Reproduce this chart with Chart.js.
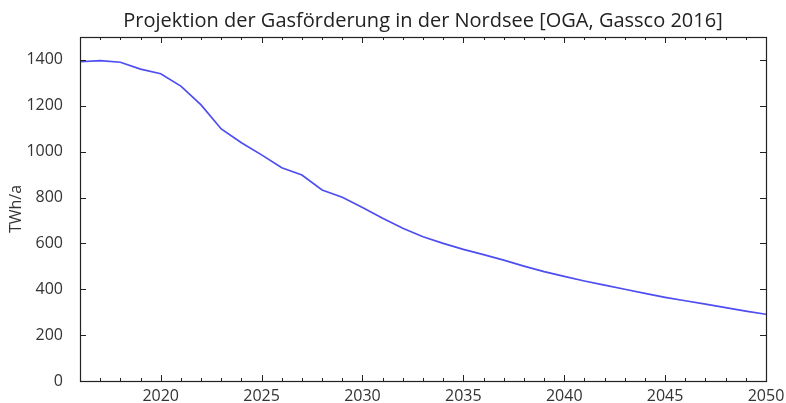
<!DOCTYPE html>
<html>
<head>
<meta charset="utf-8">
<script src="https://cdn.jsdelivr.net/npm/chart.js@4"></script>
<style>
  html, body { margin: 0; padding: 0; background: #fff; }
  #wrap { width: 786px; height: 403px; }
</style>
</head>
<body>
<div id="wrap"><canvas id="gasChart"></canvas></div>
<script>
// Projektion der Gasförderung, TWh/a
var years = [2016, 2017, 2018, 2019, 2020, 2021, 2022, 2023, 2024, 2025,
             2026, 2027, 2028, 2029, 2030, 2031, 2032, 2033, 2034, 2035,
             2036, 2037, 2038, 2039, 2040, 2041, 2042, 2043, 2044, 2045,
             2046, 2047, 2048, 2049, 2050];
var production = [1392, 1397, 1390, 1360, 1340, 1286, 1204, 1099, 1039, 986,
                  930, 898, 833, 801, 757, 710, 666, 629, 600, 574,
                  551, 527, 501, 477, 456, 436, 418, 400, 382, 365,
                  350, 335, 320, 305, 291];
var xTicks = [2020, 2025, 2030, 2035, 2040, 2045, 2050];
var yTicks = [0, 200, 400, 600, 800, 1000, 1200, 1400];

var points = years.map(function (y, i) { return { x: y, y: production[i] }; });

// matplotlib-style frame with inward ticks
var frameTicks = {
    id: 'frameTicks',
    afterDraw: function (chart) {
        var c = chart.ctx, a = chart.chartArea;
        var xs = chart.scales.x, ys = chart.scales.y;
        c.save();
        c.strokeStyle = '#222';
        c.lineWidth = 1;
        c.beginPath();
        years.forEach(function (yr) {
            var px = Math.round(xs.getPixelForValue(yr)) + 0.5;
            var len = xTicks.indexOf(yr) >= 0 ? 6 : 3;
            c.moveTo(px, a.bottom); c.lineTo(px, a.bottom - len);
            c.moveTo(px, a.top); c.lineTo(px, a.top + len);
        });
        yTicks.forEach(function (v) {
            var py = Math.round(ys.getPixelForValue(v)) + 0.5;
            c.moveTo(a.left, py); c.lineTo(a.left + 6, py);
            c.moveTo(a.right, py); c.lineTo(a.right - 6, py);
        });
        c.stroke();
        c.lineWidth = 1.2;
        c.strokeRect(Math.round(a.left) + 0.5, Math.round(a.top) + 0.5,
                     Math.round(a.right - a.left), Math.round(a.bottom - a.top));
        c.restore();
    }
};

var ctx = document.getElementById('gasChart');
new Chart(ctx, {
    type: 'line',
    data: {
        datasets: [{
            data: points,
            borderColor: '#4d4df2',
            borderWidth: 1.7,
            pointRadius: 0,
            tension: 0,
            fill: false
        }]
    },
    options: {
        responsive: true,
        maintainAspectRatio: false,
        animation: false,
        events: [],
        layout: { padding: { left: 0, right: 20, top: 0, bottom: 0 } },
        plugins: {
            legend: { display: false },
            tooltip: { enabled: false },
            title: {
                display: true,
                fullSize: false,
                text: 'Projektion der Gasförderung in der Nordsee [OGA, Gassco 2016]',
                color: '#222',
                font: { family: 'Open Sans', size: 20, weight: 'normal' },
                padding: { top: 9, bottom: 4 }
            }
        },
        scales: {
            x: {
                type: 'linear',
                min: 2016,
                max: 2050,
                grid: { display: false },
                border: { display: false },
                afterBuildTicks: function (s) {
                    s.ticks = xTicks.map(function (v) { return { value: v }; });
                },
                afterFit: function (s) { s.height = 22; },
                ticks: {
                    color: '#333',
                    font: { family: 'Open Sans', size: 16 },
                    padding: -2,
                    maxRotation: 0,
                    autoSkip: false,
                    callback: function (v) { return String(v); }
                }
            },
            y: {
                min: 0,
                max: 1500,
                grid: { display: false },
                border: { display: false },
                afterBuildTicks: function (s) {
                    s.ticks = yTicks.map(function (v) { return { value: v }; });
                },
                afterFit: function (s) { s.width = 80; },
                title: {
                    display: true,
                    text: 'TWh/a',
                    color: '#333',
                    font: { family: 'Open Sans', size: 16 },
                    padding: { top: 7, bottom: 0 }
                },
                ticks: {
                    color: '#333',
                    font: { family: 'Open Sans', size: 16 },
                    padding: 9,
                    callback: function (v) { return String(v); }
                }
            }
        }
    },
    plugins: [frameTicks]
});
</script>
</body>
</html>
